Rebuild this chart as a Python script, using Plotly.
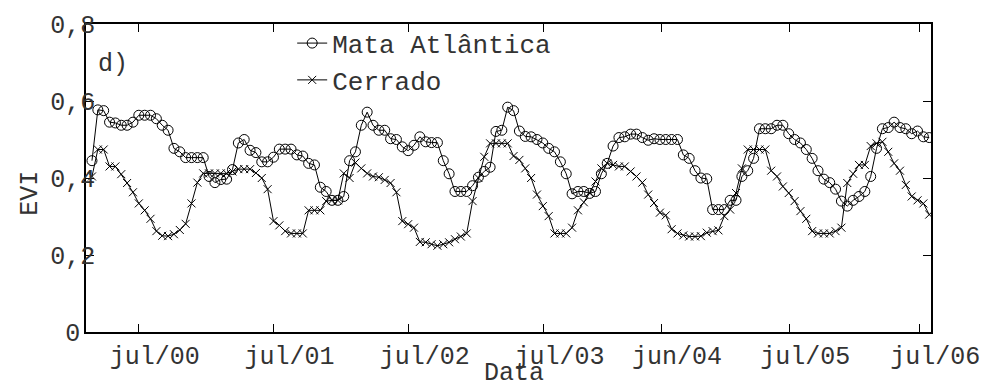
import plotly.graph_objects as go

# EVI series (16-day composites)
mata = [
    0.445, 0.577, 0.575, 0.545, 0.543, 0.537, 0.537, 0.545, 0.563, 0.563,
    0.563, 0.554, 0.537, 0.524, 0.477, 0.468, 0.453, 0.453, 0.453, 0.453,
    0.404, 0.388, 0.396, 0.397, 0.422, 0.491, 0.500, 0.472, 0.466, 0.442,
    0.442, 0.454, 0.475, 0.475, 0.475, 0.460, 0.457, 0.438, 0.434, 0.376,
    0.365, 0.342, 0.342, 0.352, 0.445, 0.468, 0.537, 0.571, 0.537, 0.524,
    0.524, 0.502, 0.500, 0.481, 0.471, 0.485, 0.507, 0.494, 0.492, 0.492,
    0.445, 0.411, 0.365, 0.365, 0.365, 0.380, 0.402, 0.417, 0.428, 0.521,
    0.524, 0.584, 0.575, 0.522, 0.508, 0.507, 0.500, 0.491, 0.477, 0.468,
    0.442, 0.411, 0.359, 0.365, 0.365, 0.360, 0.365, 0.411, 0.438, 0.483,
    0.505, 0.507, 0.514, 0.514, 0.505, 0.498, 0.502, 0.500, 0.500, 0.500,
    0.500, 0.460, 0.451, 0.419, 0.400, 0.398, 0.318, 0.318, 0.318, 0.342,
    0.342, 0.404, 0.419, 0.451, 0.528, 0.528, 0.528, 0.537, 0.537, 0.515,
    0.500, 0.491, 0.474, 0.451, 0.419, 0.397, 0.388, 0.371, 0.340, 0.327,
    0.342, 0.352, 0.365, 0.404, 0.477, 0.528, 0.531, 0.545, 0.531, 0.528,
    0.515, 0.522, 0.507, 0.505,
]

cerrado = [
    0.404, 0.474, 0.474, 0.430, 0.430, 0.410, 0.387, 0.363, 0.334, 0.316,
    0.294, 0.262, 0.250, 0.249, 0.254, 0.265, 0.281, 0.334, 0.388, 0.412,
    0.412, 0.412, 0.412, 0.412, 0.417, 0.423, 0.423, 0.423, 0.413, 0.400,
    0.371, 0.288, 0.277, 0.262, 0.256, 0.256, 0.256, 0.316, 0.316, 0.316,
    0.340, 0.342, 0.342, 0.412, 0.400, 0.440, 0.425, 0.412, 0.404, 0.402,
    0.395, 0.387, 0.363, 0.288, 0.280, 0.271, 0.234, 0.233, 0.228, 0.224,
    0.228, 0.233, 0.241, 0.248, 0.256, 0.340, 0.400, 0.455, 0.490, 0.490,
    0.490, 0.490, 0.457, 0.447, 0.425, 0.400, 0.357, 0.327, 0.301, 0.256,
    0.256, 0.256, 0.271, 0.316, 0.337, 0.361, 0.391, 0.425, 0.438, 0.434,
    0.430, 0.430, 0.417, 0.404, 0.388, 0.357, 0.335, 0.310, 0.303, 0.267,
    0.256, 0.251, 0.248, 0.248, 0.249, 0.258, 0.262, 0.264, 0.301, 0.318,
    0.361, 0.425, 0.474, 0.474, 0.474, 0.474, 0.419, 0.404, 0.378, 0.361,
    0.340, 0.314, 0.294, 0.262, 0.256, 0.256, 0.256, 0.262, 0.271, 0.387,
    0.411, 0.434, 0.434, 0.483, 0.490, 0.494, 0.468, 0.438, 0.419, 0.382,
    0.352, 0.342, 0.334, 0.305,
]

x_tick_pos = [8.0, 31.0, 54.1, 77.1, 97.2, 119.1, 141.3]
x_tick_labels = ["jul/00", "jul/01", "jul/02", "jul/03", "jun/04", "jul/05", "jul/06"]
y_tick_vals = [0, 0.2, 0.4, 0.6, 0.8]
y_tick_labels = ["0\u00a0", "0,2", "0,4", "0,6", "0,8"]

idx = list(range(len(mata)))
FONT = "Liberation Mono, Courier New, monospace"
TXT = "#333333"

fig = go.Figure()
fig.add_trace(go.Scatter(
    x=idx, y=mata, mode="lines+markers", name="Mata Atlântica",
    line=dict(color="black", width=1),
    marker=dict(symbol="circle-open", size=10, color="black", line=dict(width=1, color="black")),
))
fig.add_trace(go.Scatter(
    x=idx, y=cerrado, mode="lines+markers", name="Cerrado",
    line=dict(color="black", width=1),
    marker=dict(symbol="x-thin-open", size=8, color="black", line=dict(width=1, color="black")),
))

fig.update_layout(
    width=992, height=388,
    margin=dict(l=86, r=55, t=21, b=56),
    paper_bgcolor="white", plot_bgcolor="white",
    font=dict(family=FONT, size=25, color=TXT),
    showlegend=True,
    legend=dict(
        x=0.244, y=1.014, xanchor="left", yanchor="top",
        bgcolor="rgba(0,0,0,0)", font=dict(family=FONT, size=26, color=TXT),
        itemwidth=30, tracegroupgap=0,
    ),
)
fig.update_xaxes(
    range=[-1.02, 143.3], tickmode="array", tickvals=x_tick_pos, ticktext=x_tick_labels,
    ticks="inside", ticklen=8, tickcolor="black", tickwidth=1,
    showline=True, linecolor="black", linewidth=1.5, mirror="allticks",
    showgrid=False, zeroline=False, ticklabelshift=16,
    tickfont=dict(family=FONT, size=25, color=TXT),
)
fig.update_yaxes(
    range=[0, 0.8], tickmode="array", tickvals=y_tick_vals, ticktext=y_tick_labels,
    ticks="inside", ticklen=8, tickcolor="black", tickwidth=1,
    showline=True, linecolor="black", linewidth=1.5, mirror="allticks",
    showgrid=False, zeroline=False, ticklabelstandoff=-16,
    tickfont=dict(family=FONT, size=25, color=TXT),
)
fig.add_annotation(text="d)", xref="paper", yref="paper", x=0.012, y=0.868,
                   xanchor="left", yanchor="middle", showarrow=False,
                   font=dict(family=FONT, size=25, color=TXT))
fig.add_annotation(text="EVI", xref="paper", yref="paper", x=-0.066, y=0.45,
                   xanchor="center", yanchor="middle", textangle=-90, showarrow=False,
                   font=dict(family=FONT, size=25, color=TXT))
fig.add_annotation(text="Data", xref="paper", yref="paper", x=0.506, y=-0.136,
                   xanchor="center", yanchor="middle", showarrow=False,
                   font=dict(family=FONT, size=25, color=TXT))

fig.write_html("out.html")
